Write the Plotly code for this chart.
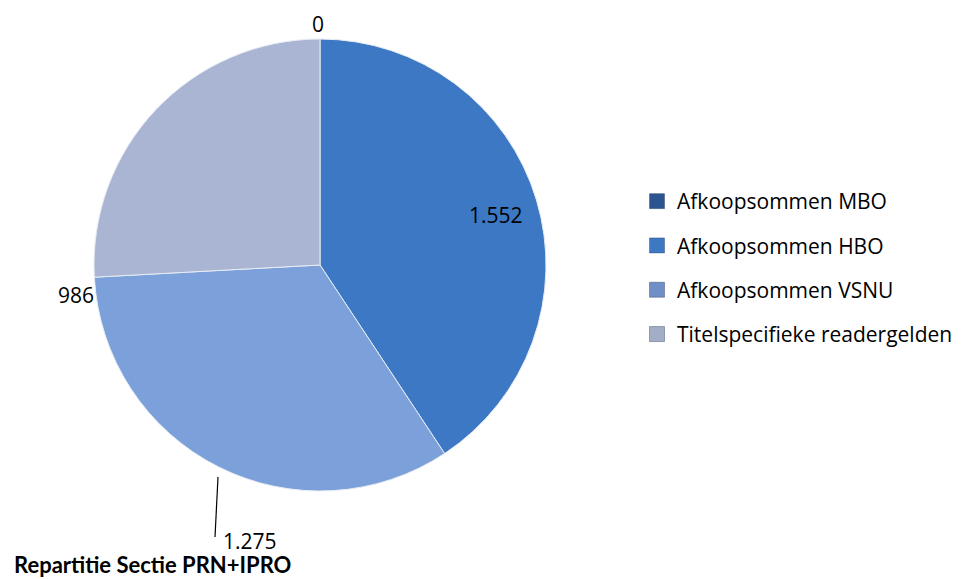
import plotly.graph_objects as go

W, H = 967, 579

categories = ["Afkoopsommen MBO", "Afkoopsommen HBO", "Afkoopsommen VSNU", "Titelspecifieke readergelden"]
values = [0, 1552, 1275, 986]
value_labels = ["0", "1.552", "1.275", "986"]
colors = ["#2a5594", "#3c78c3", "#7ca1da", "#a9b5d3"]
legend_colors = ["#2b5490", "#3d78c2", "#6f8fc6", "#a3adc6"]
title_text = "Repartitie Sectie PRN+IPRO"


def px(x):
    return x / W


def py(y):
    return 1 - y / H


fig = go.Figure()
fig.add_trace(go.Pie(
    labels=categories,
    values=values,
    sort=False,
    direction="clockwise",
    rotation=0,
    textinfo="none",
    hoverinfo="skip",
    marker=dict(colors=colors, line=dict(color="#e8ecf4", width=1)),
    domain=dict(x=[px(94), px(546)], y=[py(491), py(39)]),
    showlegend=False,
))

# legend entries (square swatches) built from the categories
for i, (name, col) in enumerate(zip(categories, legend_colors)):
    fig.add_trace(go.Scatter(
        x=[None], y=[None], mode="markers", name=name,
        marker=dict(symbol="square", size=15, color=col,
                    line=dict(color="rgba(20,40,80,0.35)", width=1)),
        legendgroup=f"g{i}", showlegend=True, hoverinfo="skip",
    ))

# data labels (positions follow Excel's label placement)
label_pos = [(318, 24), (496, 215), (250, 541), (76, 295)]
for txt, (x, y) in zip(value_labels, label_pos):
    fig.add_annotation(x=px(x), y=py(y), xref="paper", yref="paper", text=txt,
                       showarrow=False, font=dict(size=21, color="#000000", family="Open Sans"),
                       xanchor="center", yanchor="middle")

# leader line for the 1.275 label
fig.add_shape(type="line", xref="paper", yref="paper",
              x0=px(218), y0=py(477), x1=px(215), y1=py(537),
              line=dict(color="#000000", width=1.2))

fig.add_annotation(x=px(12), y=py(564), xref="paper", yref="paper",
                   text=f"<b>{title_text}</b>", showarrow=False,
                   font=dict(size=22, color="#000000", family="Lato"),
                   xanchor="left", yanchor="middle")

fig.update_layout(
    width=W, height=H,
    margin=dict(l=0, r=0, t=0, b=0),
    paper_bgcolor="#ffffff",
    plot_bgcolor="#ffffff",
    xaxis=dict(visible=False),
    yaxis=dict(visible=False),
    legend=dict(x=px(637), y=py(268), xanchor="left", yanchor="middle",
                font=dict(size=21, color="#000000", family="Open Sans"),
                tracegroupgap=14, traceorder="grouped", bgcolor="rgba(0,0,0,0)"),
)

fig.write_html("out.html", config={"displayModeBar": False},
               post_script="document.body.style.margin='0';")
